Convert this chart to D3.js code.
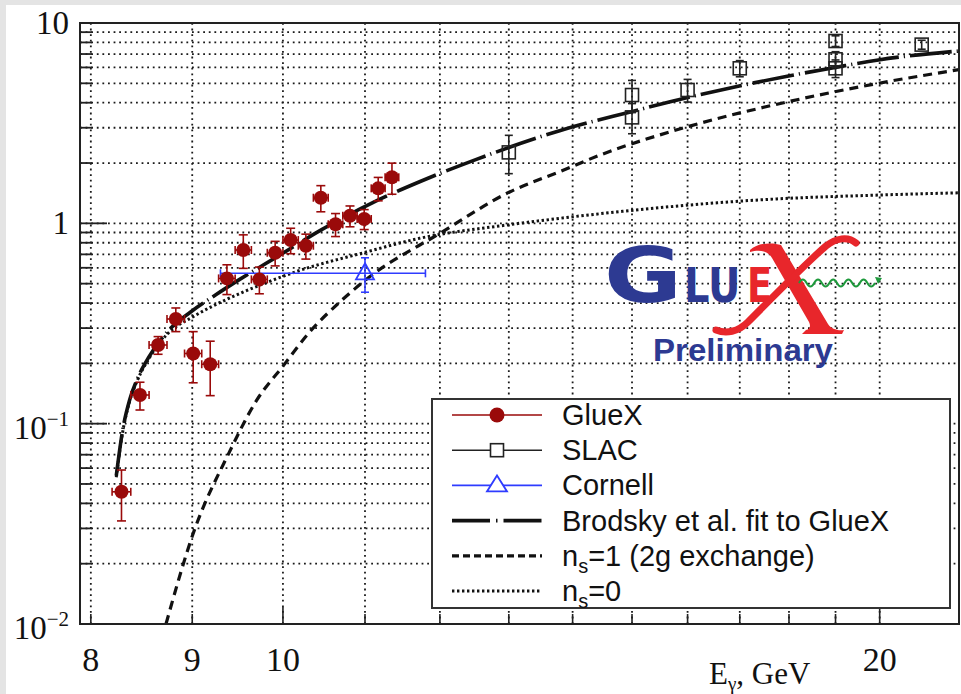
<!DOCTYPE html>
<html>
<head>
<meta charset="utf-8">
<script src="https://cdn.jsdelivr.net/npm/d3@7"></script>
<style>
  body { margin: 0; background: #e4e4e4; }
  svg { display: block; }
</style>
</head>
<body>
<svg id="chart" width="961" height="694"></svg>
<script>
// J/psi photoproduction cross section vs photon energy
var gluexE = [8.29, 8.47, 8.65, 8.83, 9.01, 9.19, 9.37, 9.55, 9.73, 9.91, 10.09, 10.27, 10.45, 10.63, 10.81, 10.99, 11.17, 11.35];
var gluexSigma = [0.0457, 0.139, 0.247, 0.333, 0.224, 0.198, 0.531, 0.736, 0.525, 0.713, 0.825, 0.773, 1.342, 0.989, 1.091, 1.051, 1.495, 1.697];
var gluexErr = [0.013, 0.022, 0.025, 0.045, 0.064, 0.06, 0.09, 0.14, 0.08, 0.1, 0.12, 0.11, 0.2, 0.13, 0.13, 0.12, 0.2, 0.3];
var gluexHalfBin = 0.09;

var slacE = [13, 15, 15, 16, 17, 19, 19, 19, 21];
var slacSigma = [2.26, 4.37, 3.38, 4.63, 5.94, 8.13, 6.59, 5.94, 7.8];
var slacErr = [0.49, 0.8, 0.58, 0.6, 0.55, 0.5, 0.6, 0.6, 0.4];

var cornellE = [11.0];
var cornellSigma = [0.563];
var cornellErr = [0.11];
var cornellELow = [9.3];
var cornellEHigh = [11.8];

var brodskyE = [8.24, 8.30, 8.37, 8.45, 8.56, 8.75, 8.98, 9.25, 9.51, 9.93, 10.46, 11.10, 11.72, 12.52, 13.79, 14.99, 16.0, 16.99, 17.99, 18.99, 19.97, 21.93];
var brodskySigma = [0.055, 0.092, 0.132, 0.170, 0.216, 0.290, 0.360, 0.440, 0.525, 0.680, 0.930, 1.270, 1.613, 2.087, 2.90, 3.61, 4.25, 4.85, 5.44, 6.0, 6.54, 7.25];

var twoGluonE = [8.73, 9.01, 9.39, 9.70, 10.01, 10.30, 10.71, 11.06, 12.0, 13.02, 13.79, 14.45, 16.0, 17.99, 19.97, 21.93];
var twoGluonSigma = [0.01, 0.0283, 0.0711, 0.131, 0.196, 0.282, 0.414, 0.541, 0.891, 1.438, 1.81, 2.19, 3.035, 4.05, 5.0, 5.85];

var ns0E = [8.24, 8.30, 8.37, 8.45, 8.56, 8.75, 9.01, 9.39, 9.78, 10.16, 10.98, 11.72, 12.96, 13.79, 17.6, 19.97, 21.93];
var ns0Sigma = [0.054, 0.090, 0.130, 0.167, 0.212, 0.282, 0.342, 0.422, 0.50, 0.575, 0.713, 0.842, 0.98, 1.059, 1.318, 1.384, 1.42];

var xGridValues = [8, 9, 10, 11, 12, 13, 14, 15, 16, 17, 18, 19, 20];
var xTickLabels = [8, 9, 10, 20];
var yTickValues = [0.01, 0.1, 1, 10];
var yTickBase = ["10", "10", "1", "10"];
var yTickSup = ["\u22122", "\u22121", "", ""];

var legendNames = ["GlueX", "SLAC", "Cornell", "Brodsky et al. fit to GlueX", "n_s=1 (2g exchange)", "n_s=0"];

(function () {
    var gluexColor = "#9a0a0a";
    var cornellColor = "#2f3cff";

    var pl = 80, pr = 959, pt = 23, pb = 624;

    var x = d3.scaleLog().domain([7.9, 21.93]).range([pl, pr]);
    var y = d3.scaleLog().domain([0.01, 10]).range([pb, pt]);

    var svg = d3.select("#chart");

    // white page with a thin grey margin on the left/top
    svg.append("rect")
        .attr("x", 6).attr("y", 5)
        .attr("width", 955).attr("height", 689)
        .attr("fill", "#fff");

    svg.append("defs").append("clipPath")
        .attr("id", "plotClip")
        .append("rect")
        .attr("x", pl).attr("y", pt)
        .attr("width", pr - pl).attr("height", pb - pt);

    // grid
    var yGridValues = [];
    [0.01, 0.1, 1].forEach(function (d) {
        for (var k = 1; k <= 9; k++) yGridValues.push(d * k);
    });

    var grid = svg.append("g").attr("class", "grid")
        .attr("stroke", "#1a1a1a")
        .attr("stroke-width", 1.8)
        .attr("stroke-dasharray", "1.8,3.8");

    grid.selectAll("line.h")
        .data(yGridValues)
        .enter().append("line")
        .attr("class", "h")
        .attr("x1", pl).attr("x2", pr)
        .attr("y1", function (d) { return y(d); })
        .attr("y2", function (d) { return y(d); });

    grid.selectAll("line.v")
        .data(xGridValues)
        .enter().append("line")
        .attr("class", "v")
        .attr("y1", pt).attr("y2", pb)
        .attr("x1", function (d) { return x(d); })
        .attr("x2", function (d) { return x(d); });

    // GlueX logo, over the grid
    var logo = svg.append("g").attr("class", "logo");
    logo.append("text")
        .attr("x", 604).attr("y", 302)
        .attr("textLength", 78).attr("lengthAdjust", "spacingAndGlyphs")
        .style("font", "bold 76px 'DejaVu Sans'")
        .attr("fill", "#2d3a92")
        .text("G");
    logo.append("text")
        .attr("transform", "translate(684,302) scale(1,1.2)")
        .style("font", "bold 40px 'DejaVu Sans'")
        .attr("fill", "#2d3a92")
        .text("LU");
    logo.append("text")
        .attr("transform", "translate(747,302) scale(0.92,1.2)")
        .style("font", "bold 40px 'DejaVu Sans'")
        .attr("fill", "#e8262b")
        .text("E");
    // big script X
    logo.append("path")
        .attr("d", "M750,250 C757,243 772,242 781,245 L828,324 C831,329 838,331 844,330 L842,334 L802,334 L806,330 C810,329 811,326 809,322 L772,258 C768,251 760,249 750,252 Z")
        .attr("fill", "#e8262b");
    logo.append("path")
        .attr("d", "M856,243 C848,236 836,238 826,246 C805,264 770,300 748,322 C738,332 726,334 716,330")
        .attr("fill", "none")
        .attr("stroke", "#e8262b")
        .attr("stroke-width", 7)
        .attr("stroke-linecap", "round");
    // gluon wiggle
    var wig = "M799,283";
    for (var i = 0; i < 10; i++) {
        var x0 = 799 + i * 7.6;
        wig += " Q" + (x0 + 3.8) + "," + (i % 2 ? 290 : 276) + " " + (x0 + 7.6) + ",283";
    }
    logo.append("path")
        .attr("d", wig)
        .attr("fill", "none")
        .attr("stroke", "#1e9a3c")
        .attr("stroke-width", 2);
    logo.append("path")
        .attr("d", "M875,277 L882,278 L878,284 Z")
        .attr("fill", "#1e9a3c");
    logo.append("text")
        .attr("x", 653).attr("y", 361)
        .attr("textLength", 180).attr("lengthAdjust", "spacingAndGlyphs")
        .style("font", "bold 32px 'Liberation Sans'")
        .attr("fill", "#2d3a92")
        .text("Preliminary");

    // curves
    var line = d3.line()
        .x(function (d) { return x(d[0]); })
        .y(function (d) { return y(d[1]); })
        .curve(d3.curveMonotoneX);

    var curves = svg.append("g").attr("clip-path", "url(#plotClip)");

    curves.append("path")
        .attr("d", line(d3.zip(ns0E, ns0Sigma)))
        .attr("fill", "none").attr("stroke", "#111")
        .attr("stroke-width", 3).attr("stroke-dasharray", "2.4,2.6");

    curves.append("path")
        .attr("d", line(d3.zip(twoGluonE, twoGluonSigma)))
        .attr("fill", "none").attr("stroke", "#111")
        .attr("stroke-width", 3.2).attr("stroke-dasharray", "9,6");

    curves.append("path")
        .attr("d", line(d3.zip(brodskyE, brodskySigma)))
        .attr("fill", "none").attr("stroke", "#111")
        .attr("stroke-width", 3.6).attr("stroke-dasharray", "42,5,1.2,5");

    // error bars with end caps
    function errorBars(g, data, color, capV, capH) {
        var eb = g.selectAll("g.eb")
            .data(data)
            .enter().append("g")
            .attr("class", "eb")
            .attr("stroke", color)
            .attr("stroke-width", 1.6)
            .attr("fill", "none");
        eb.append("line")
            .attr("x1", function (d) { return x(d.e); })
            .attr("x2", function (d) { return x(d.e); })
            .attr("y1", function (d) { return y(d.s + d.err); })
            .attr("y2", function (d) { return y(d.s - d.err); });
        eb.append("line")
            .attr("x1", function (d) { return x(d.e) - capV; })
            .attr("x2", function (d) { return x(d.e) + capV; })
            .attr("y1", function (d) { return y(d.s + d.err); })
            .attr("y2", function (d) { return y(d.s + d.err); });
        eb.append("line")
            .attr("x1", function (d) { return x(d.e) - capV; })
            .attr("x2", function (d) { return x(d.e) + capV; })
            .attr("y1", function (d) { return y(d.s - d.err); })
            .attr("y2", function (d) { return y(d.s - d.err); });
        eb.filter(function (d) { return d.eLo != null; }).each(function (d) {
            var s = d3.select(this);
            s.append("line")
                .attr("x1", x(d.eLo)).attr("x2", x(d.eHi))
                .attr("y1", y(d.s)).attr("y2", y(d.s));
            s.append("line")
                .attr("x1", x(d.eLo)).attr("x2", x(d.eLo))
                .attr("y1", y(d.s) - capH).attr("y2", y(d.s) + capH);
            s.append("line")
                .attr("x1", x(d.eHi)).attr("x2", x(d.eHi))
                .attr("y1", y(d.s) - capH).attr("y2", y(d.s) + capH);
        });
        return eb;
    }

    var gluexData = gluexE.map(function (e, i) {
        return { e: e, s: gluexSigma[i], err: gluexErr[i], eLo: e - gluexHalfBin, eHi: e + gluexHalfBin };
    });
    var slacData = slacE.map(function (e, i) {
        return { e: e, s: slacSigma[i], err: slacErr[i] };
    });
    var cornellData = cornellE.map(function (e, i) {
        return { e: e, s: cornellSigma[i], err: cornellErr[i], eLo: cornellELow[i], eHi: cornellEHigh[i] };
    });

    var pts = svg.append("g").attr("clip-path", "url(#plotClip)");

    // SLAC
    var gs = pts.append("g");
    errorBars(gs, slacData, "#222", 4, 0);
    gs.selectAll("rect")
        .data(slacData)
        .enter().append("rect")
        .attr("x", function (d) { return x(d.e) - 6.5; })
        .attr("y", function (d) { return y(d.s) - 6.5; })
        .attr("width", 13).attr("height", 13)
        .attr("fill", "none").attr("stroke", "#222").attr("stroke-width", 1.6);

    // Cornell
    var gc = pts.append("g");
    errorBars(gc, cornellData, cornellColor, 4, 4);
    gc.selectAll("path.tri")
        .data(cornellData)
        .enter().append("path")
        .attr("class", "tri")
        .attr("d", function (d) {
            var cx = x(d.e), cy = y(d.s);
            return "M" + cx + "," + (cy - 10) + " L" + (cx + 9) + "," + (cy + 6) + " L" + (cx - 9) + "," + (cy + 6) + " Z";
        })
        .attr("fill", "none").attr("stroke", cornellColor).attr("stroke-width", 1.8);

    // GlueX
    var gg = pts.append("g");
    errorBars(gg, gluexData, gluexColor, 4.5, 4);
    gg.selectAll("circle")
        .data(gluexData)
        .enter().append("circle")
        .attr("cx", function (d) { return x(d.e); })
        .attr("cy", function (d) { return y(d.s); })
        .attr("r", 7)
        .attr("fill", gluexColor);

    // frame and ticks
    var axes = svg.append("g").attr("stroke", "#222");
    axes.append("rect")
        .attr("x", pl).attr("y", pt)
        .attr("width", pr - pl).attr("height", pb - pt)
        .attr("fill", "none").attr("stroke-width", 2);

    axes.selectAll("line.ymaj")
        .data(yTickValues)
        .enter().append("line")
        .attr("class", "ymaj")
        .attr("x1", pl).attr("x2", pl + 27)
        .attr("y1", function (d) { return y(d); })
        .attr("y2", function (d) { return y(d); })
        .attr("stroke-width", 1.8);
    axes.selectAll("line.ymin")
        .data(yGridValues.filter(function (d) { return yTickValues.indexOf(d) < 0; }))
        .enter().append("line")
        .attr("class", "ymin")
        .attr("x1", pl).attr("x2", pl + 12)
        .attr("y1", function (d) { return y(d); })
        .attr("y2", function (d) { return y(d); })
        .attr("stroke-width", 1.8);
    axes.selectAll("line.xt")
        .data(xGridValues)
        .enter().append("line")
        .attr("class", "xt")
        .attr("x1", function (d) { return x(d); })
        .attr("x2", function (d) { return x(d); })
        .attr("y1", pb)
        .attr("y2", function (d) { return (d === 10 || d === 20) ? pb - 17 : pb - 10; })
        .attr("stroke-width", 1.6);

    // tick labels
    var yLab = svg.selectAll("text.ylab")
        .data(yTickValues)
        .enter().append("text")
        .attr("class", "ylab")
        .attr("x", 69)
        .attr("y", function (d, i) { return y(d) + (yTickSup[i] ? 15 : 11); })
        .attr("text-anchor", "end")
        .style("font", "33px 'Liberation Serif'")
        .attr("fill", "#111");
    yLab.append("tspan").text(function (d, i) { return yTickBase[i]; });
    yLab.append("tspan")
        .attr("dy", function (d, i) { return yTickSup[i] ? -13 : 0; })
        .style("font-size", "21px")
        .text(function (d, i) { return yTickSup[i]; });

    svg.selectAll("text.xlab")
        .data(xTickLabels)
        .enter().append("text")
        .attr("class", "xlab")
        .attr("x", function (d) { return x(d); })
        .attr("y", 671)
        .attr("text-anchor", "middle")
        .style("font", "34px 'Liberation Serif'")
        .attr("fill", "#111")
        .text(function (d) { return d; });

    var xTitle = svg.append("text")
        .attr("x", 709).attr("y", 684)
        .style("font", "31px 'Liberation Serif'")
        .attr("fill", "#111");
    xTitle.append("tspan").text("E");
    xTitle.append("tspan").attr("dy", 6).style("font-size", "19px").text("\u03b3");
    xTitle.append("tspan").attr("dy", -6).text(", GeV");

    // legend
    var lg = svg.append("g").attr("class", "legend");
    lg.append("rect")
        .attr("x", 432).attr("y", 399)
        .attr("width", 518).attr("height", 209)
        .attr("fill", "#fff").attr("stroke", "#333").attr("stroke-width", 2);

    var rowY = function (i) { return 415 + i * 35.2; };
    var lx1 = 452, lx2 = 542, mx = 497;

    var sampleStyles = [
        { color: gluexColor, width: 1.6, dash: null },
        { color: "#222", width: 1.6, dash: null },
        { color: cornellColor, width: 1.6, dash: null },
        { color: "#111", width: 3.6, dash: "38,6,1.5,6" },
        { color: "#111", width: 3.2, dash: "7,4" },
        { color: "#111", width: 3, dash: "2.4,2.6" }
    ];

    lg.selectAll("line.sample")
        .data(sampleStyles)
        .enter().append("line")
        .attr("class", "sample")
        .attr("x1", lx1).attr("x2", lx2)
        .attr("y1", function (d, i) { return rowY(i); })
        .attr("y2", function (d, i) { return rowY(i); })
        .attr("stroke", function (d) { return d.color; })
        .attr("stroke-width", function (d) { return d.width; })
        .attr("stroke-dasharray", function (d) { return d.dash; });

    lg.append("circle")
        .attr("cx", mx).attr("cy", rowY(0)).attr("r", 7.5)
        .attr("fill", gluexColor);
    lg.append("rect")
        .attr("x", mx - 6.5).attr("y", rowY(1) - 6.5)
        .attr("width", 13).attr("height", 13)
        .attr("fill", "#fff").attr("stroke", "#222").attr("stroke-width", 1.6);
    lg.append("path")
        .attr("d", "M" + mx + "," + (rowY(2) - 10) + " L" + (mx + 10) + "," + (rowY(2) + 6) + " L" + (mx - 10) + "," + (rowY(2) + 6) + " Z")
        .attr("fill", "#fff").attr("stroke", cornellColor).attr("stroke-width", 1.8);

    var lt = lg.selectAll("text.lt")
        .data(legendNames)
        .enter().append("text")
        .attr("class", "lt")
        .attr("x", 562)
        .attr("y", function (d, i) { return rowY(i) + 10; })
        .style("font", "29px 'Liberation Sans'")
        .attr("fill", "#111");
    lt.each(function (d) {
        var t = d3.select(this);
        var parts = d.split("_s");
        if (parts.length === 1) {
            t.text(d);
        } else {
            t.append("tspan").text(parts[0]);
            t.append("tspan").attr("dy", 7).style("font-size", "20px").text("s");
            t.append("tspan").attr("dy", -7).text(parts[1]);
        }
    });
})();
</script>
</body>
</html>
